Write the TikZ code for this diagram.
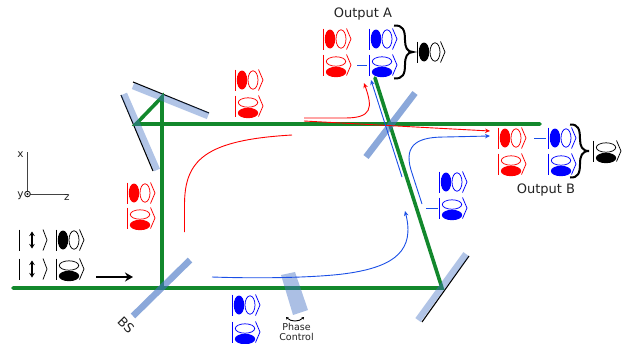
\documentclass[tikz,border=0pt]{standalone}
\usepackage{fontspec}
\setmainfont{DejaVu Sans}
\usetikzlibrary{arrows.meta}
\definecolor{beam}{HTML}{12882C}
\definecolor{optic}{HTML}{4472C4}
\definecolor{rayblue}{HTML}{1A4FE6}
\definecolor{txt}{HTML}{222222}
\tikzset{
  x=1pt,y=-1pt,
  beamline/.style={draw=beam,line width=3.6pt,line cap=round},
  splitter/.style={draw=optic,draw opacity=.62,line width=6.5pt},
  mirrorglass/.style={draw=optic,draw opacity=.42,line width=6.5pt},
  mirrorback/.style={draw=black,line width=1.1pt},
  redray/.style={draw=red,line width=.9pt,-{Stealth[length=5pt,width=4.5pt]}},
  redplain/.style={draw=red,line width=.9pt},
  blueray/.style={draw=rayblue,line width=.9pt,-{Stealth[length=5pt,width=4.5pt]}},
  blueplain/.style={draw=rayblue,line width=.9pt},
  ketline/.style={line width=.75pt},
  lbl/.style={inner sep=0pt,text=txt,font=\fontsize{13}{15}\selectfont},
  small/.style={inner sep=0pt,text=txt,font=\fontsize{9.5}{10}\selectfont,align=center},
  brace/.style={draw=black,line width=2pt},
}
\newcommand{\ketH}[3]{%
  \begin{scope}[shift={(#1,#2)}]
    \draw[#3,ketline] (0,-10.5) -- (0,10.5);
    \fill[#3] (7,0) ellipse [x radius=5.2,y radius=9.5];
    \draw[#3,ketline] (18,0) ellipse [x radius=5,y radius=9.2];
    \draw[#3,ketline] (23.5,-10.5) -- (28,0) -- (23.5,10.5);
  \end{scope}}
\newcommand{\ketV}[3]{%
  \begin{scope}[shift={(#1,#2)}]
    \draw[#3,ketline] (0,-10.5) -- (0,10.5);
    \draw[#3,ketline] (13,-3.5) ellipse [x radius=9.7,y radius=4.7];
    \fill[#3] (13,7) ellipse [x radius=10.2,y radius=5.2];
    \draw[#3,ketline] (23.5,-10.5) -- (28,0) -- (23.5,10.5);
  \end{scope}}
\newcommand{\ketArrow}[2]{%
  \begin{scope}[shift={(#1,#2)}]
    \draw[black,ketline] (0,-10.5) -- (0,10.5);
    \draw[black,line width=1.8pt,{Stealth[length=4.5pt,width=5.5pt]}-{Stealth[length=4.5pt,width=5.5pt]}] (13,-8.5) -- (13,8.5);
    \draw[black,ketline] (24,-10.5) -- (28,0) -- (24,10.5);
  \end{scope}}
\begin{document}
\begin{tikzpicture}
\useasboundingbox (0,0) rectangle (623,343);
% beam points
\coordinate (in) at (13,288);
\coordinate (bsA) at (162,288);
\coordinate (mB) at (442,288);
\coordinate (mT) at (162,97);
\coordinate (mL) at (136,124);
\coordinate (outB) at (540,124);
\coordinate (outA) at (375,78);
% mirror backs
\draw[mirrorback] (133,82) -- (209,113);
\draw[mirrorback] (121,95) -- (153,171);
\draw[mirrorback] (422,322) -- (469,256);
% beams
\draw[beamline] (in) -- (mB) -- (outA);
\draw[beamline] (bsA) -- (mT) -- (mL) -- (outB);
% optics
\draw[splitter] (133,316) -- (190,260);
\draw[splitter] (366,157) -- (415,93);
\draw[mirrorglass] (133,86) -- (208,116);
\draw[mirrorglass] (124,94) -- (157,170);
\draw[mirrorglass] (418,320) -- (466,254);
\fill[optic,opacity=.45] (281,275) -- (295,272) -- (308,310) -- (293,315) -- cycle;
% phase control
\coordinate (pcA) at (286,317);
\coordinate (pcB) at (304,317);
\draw[black,line width=.9pt,{Stealth[length=2.5pt,width=3pt]}-{Stealth[length=2.5pt,width=3pt]}] (pcA) .. controls (291,322) and (299,322) .. (pcB);
\node[small] (phase) at (296.5,332) {\fontsize{9.5}{10}\selectfont Phase\\[-.5pt]Control};
% rays
\coordinate (r1a) at (184.500,232);
\coordinate (r1b) at (292,135);
\draw[redplain] (r1a) -- (184.500,205) .. controls (184.500,160) and (205,140) .. (r1b);
\coordinate (r2a) at (304,118);
\coordinate (r2b) at (364,83);
\draw[redray] (r2a) -- (345,118) .. controls (372,118) and (373,108) .. (r2b);
\coordinate (r3a) at (304,121);
\coordinate (r3b) at (490,131);
\draw[redray] (r3a) -- (r3b);
\coordinate (b1a) at (212,277);
\coordinate (b1b) at (405,211);
\draw[blueray] (b1a) .. controls (270,279) and (325,277) .. (350,273) .. controls (395,266) and (415,250) .. (b1b);
\coordinate (b2a) at (402,177);
\coordinate (b2b) at (371,80);
\draw[blueray] (b2a) -- (b2b);
\coordinate (b3a) at (422,204);
\coordinate (b3b) at (490,136);
\draw[blueray] (b3a) -- (411,170) .. controls (403,143) and (420,137) .. (445,137) -- (b3b);
% kets
\ketH{127}{193}{red}\ketV{127}{218}{red}
\ketH{235}{80}{red}\ketV{235}{106}{red}
\ketArrow{19}{240}\ketH{56}{240}{black}
\ketArrow{19}{269}\ketV{56}{269}{black}
\ketH{232}{305}{blue}\ketV{232}{332}{blue}
\ketH{439}{182}{blue}\ketV{439}{208}{blue}
\coordinate (d1a) at (426,208);\coordinate (d1b) at (438,208);
\draw[blueplain] (d1a) -- (d1b);
% output A
\ketH{323}{39}{red}\ketV{323}{65}{red}
\ketH{369}{39}{blue}\ketV{369}{65}{blue}
\coordinate (d2a) at (357,65);\coordinate (d2b) at (367,65);
\draw[blueplain] (d2a) -- (d2b);
\draw[brace] (394,25.500) .. controls (403,25) and (405,30) .. (405,40) .. controls (405,47) and (407,52) .. (413,52) .. controls (407,52) and (405,57) .. (405,65) .. controls (405,74) and (403,79) .. (394,78.500);
\ketH{417}{52}{black}
\node[lbl] (outputA) at (363,14) {Output A};
% output B
\ketH{498}{138}{red}\ketV{498}{164}{red}
\ketH{548}{138}{blue}\ketV{548}{164}{blue}
\coordinate (d3a) at (534,138);\coordinate (d3b) at (546,138);
\draw[blueplain] (d3a) -- (d3b);
\draw[brace] (570,124.500) .. controls (578,124) and (580,129) .. (580,139) .. controls (580,146) and (582,151) .. (589,151) .. controls (582,151) and (580,156) .. (580,164) .. controls (580,173) and (578,178) .. (570,177.500);
\ketV{593}{151}{black}
\node[lbl] (outputB) at (546,190) {Output B};
% input arrow
\coordinate (ia) at (96,277);\coordinate (ib) at (133,277);
\draw[black,line width=2.6pt,-{Stealth[length=8pt,width=9pt]}] (ia) -- (ib);
% axes
\coordinate (o) at (27.5,194);
\coordinate (ax) at (27.5,152);
\coordinate (az) at (68,194);
\draw[txt!85,line width=1pt] (o) -- (ax);
\draw[txt!85,line width=1pt] (o) -- (az);
\draw[txt,line width=.9pt,fill=white] (o) circle [radius=2.8];
\fill[txt] (o) circle [radius=1.1];
\node[lbl,font=\fontsize{10.5}{12}\selectfont] (xl) at (20.500,154.500) {x};
\node[lbl,font=\fontsize{10.5}{12}\selectfont] (yl) at (20.500,195.500) {y};
\node[lbl,font=\fontsize{10.5}{12}\selectfont] (zl) at (67,197.500) {z};
\node[lbl,rotate=-45] (bs) at (126,325) {BS};
\end{tikzpicture}
\end{document}
